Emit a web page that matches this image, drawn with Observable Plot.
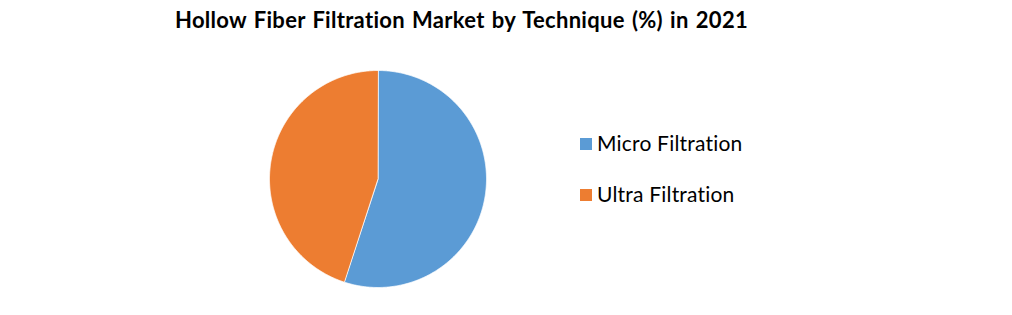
<!DOCTYPE html>
<html>
<head>
<meta charset="utf-8">
<script src="https://cdn.jsdelivr.net/npm/d3@7"></script>
<script src="https://cdn.jsdelivr.net/npm/@observablehq/plot@0.6"></script>
<style>
  html, body { margin: 0; padding: 0; background: #fff; }
  #wrap { position: relative; width: 1012px; height: 315px; overflow: hidden; }
  #title { position: absolute; left: 175px; top: 6px; text-align: left;
    font-family: Lato, "Open Sans", sans-serif; font-weight: bold; font-size: 22px; color: #000; white-space: nowrap;
    font-variant-ligatures: none; letter-spacing: 0.6px; word-spacing: 1.5px; }
  #chart { position: absolute; left: 0; top: 0; }
  #legend { position: absolute; left: 580px; top: 128px; font-family: Lato, "Open Sans", sans-serif; font-size: 21px; color: #000;
    font-variant-ligatures: none; letter-spacing: 0.2px; }
  .item { display: flex; align-items: center; height: 29px; margin-bottom: 22px; white-space: nowrap; }
  .sw { width: 12px; height: 12px; margin-right: 5px; margin-top: 2px; }
</style>
</head>
<body>
<div id="wrap">
  <div id="chart"></div>
  <div id="title"></div>
  <div id="legend"></div>
</div>
<script>
const titleText = "Hollow Fiber Filtration Market by Technique (%) in 2021";
const categories = ["Micro Filtration", "Ultra Filtration"];
const shares = [55, 45];
const colors = ["#5B9BD5", "#ED7D31"];

document.getElementById("title").textContent = titleText;

const data = categories.map((name, i) => ({name, value: shares[i]}));
const arcs = d3.pie().sort(null).value(d => d.value)(data);

// polygon points for each slice (angles from pie layout, clockwise from 12 o'clock)
const pts = [];
for (const a of arcs) {
  const n = Math.max(2, Math.ceil((a.endAngle - a.startAngle) / (Math.PI / 360)));
  pts.push({name: a.data.name, x: 0, y: 0});
  for (let k = 0; k <= n; k++) {
    const t = a.startAngle + (a.endAngle - a.startAngle) * k / n;
    pts.push({name: a.data.name, x: Math.sin(t), y: Math.cos(t)});
  }
}

const chart = Plot.plot({
  width: 1012,
  height: 315,
  marginLeft: 269,
  marginRight: 526,
  marginTop: 70,
  marginBottom: 28,
  x: {domain: [-1, 1], axis: null},
  y: {domain: [-1, 1], axis: null},
  color: {domain: categories, range: colors},
  marks: [
    Plot.line(pts, {x: "x", y: "y", z: "name", fill: "name", stroke: "white", strokeWidth: 0.75, curve: "linear-closed"})
  ]
});
document.getElementById("chart").appendChild(chart);

// fit title to the reference width
const t = document.getElementById("title");
const w = t.getBoundingClientRect().width;
if (w > 0) {
  const extra = (573 - w) / titleText.length;
  t.style.letterSpacing = (0.6 + extra) + "px";
}

const legend = document.getElementById("legend");
categories.forEach((c, i) => {
  const item = document.createElement("div");
  item.className = "item";
  const sw = document.createElement("div");
  sw.className = "sw";
  sw.style.background = colors[i];
  const label = document.createElement("span");
  label.textContent = c;
  item.appendChild(sw);
  item.appendChild(label);
  legend.appendChild(item);
});
</script>
</body>
</html>
